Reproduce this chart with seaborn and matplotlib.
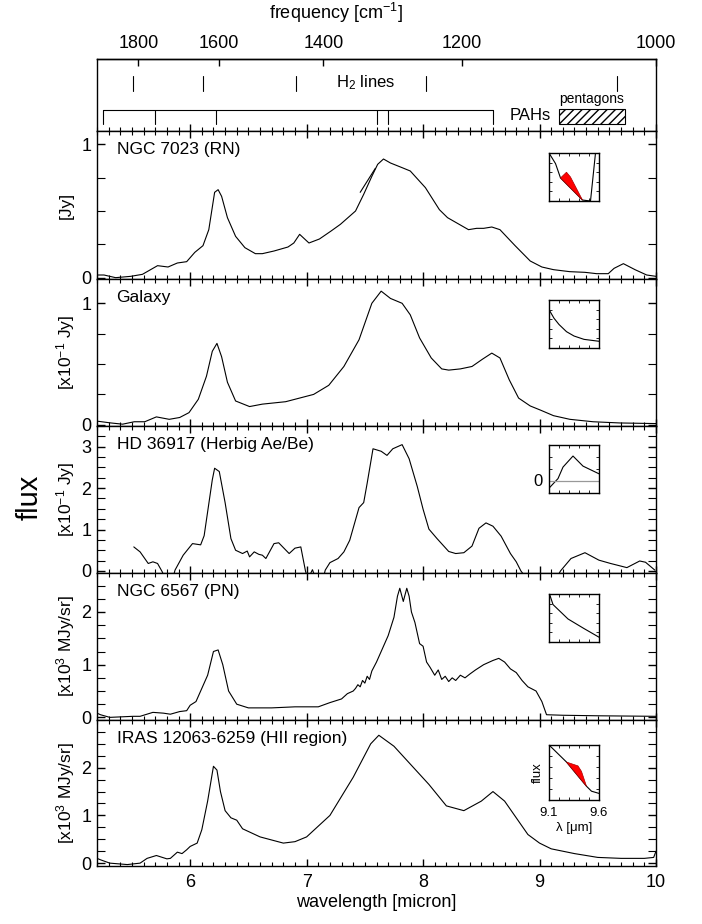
import numpy as np
import pandas as pd
import matplotlib
matplotlib.use("Agg")
import matplotlib.pyplot as plt
import seaborn as sns
from matplotlib.patches import Rectangle
from matplotlib.ticker import MultipleLocator, FixedLocator, NullLocator

sns.set_theme(style="ticks")
plt.rcParams['font.family'] = ['Liberation Sans', 'DejaVu Sans']
plt.rcParams['mathtext.fontset'] = 'custom'
plt.rcParams['mathtext.rm'] = 'Liberation Sans'
plt.rcParams['mathtext.it'] = 'Liberation Sans:italic'
plt.rcParams['axes.linewidth'] = 1.0
for k in ['axes.edgecolor', 'xtick.color', 'ytick.color', 'text.color', 'axes.labelcolor']:
    plt.rcParams[k] = 'black'

# ---------------- data ----------------
h2_lines = [5.511, 6.109, 6.909, 8.026, 9.665]
pah_bands = [5.25, 5.70, 6.22, 7.60, 7.70, 8.60]
pentagon_band = [9.17, 9.73]
freq_ticks = [1800, 1600, 1400, 1200, 1000]
wl_ticks = [6, 7, 8, 9, 10]

ngc7023_wl = [5.19, 5.26, 5.36, 5.49, 5.59, 5.66, 5.72, 5.81, 5.89, 5.97, 6.04, 6.11, 6.16, 6.21, 6.24,
              6.27, 6.32, 6.39, 6.47, 6.56, 6.62, 6.72, 6.84, 6.89, 6.94, 7.02, 7.11, 7.21, 7.29, 7.42,
              7.49, 7.56, 7.61, 7.66, 7.72, 7.82, 7.89, 8.02, 8.14, 8.21, 8.31, 8.39, 8.46, 8.52, 8.59,
              8.66, 8.79, 8.92, 9.02, 9.12, 9.26, 9.39, 9.49, 9.59, 9.64, 9.72, 9.82, 9.92, 10.0]
ngc7023_flux = [0.02, 0.02, 0.0, 0.01, 0.025, 0.06, 0.09, 0.08, 0.11, 0.12, 0.19, 0.24, 0.36, 0.64, 0.66,
                0.61, 0.45, 0.31, 0.225, 0.18, 0.18, 0.20, 0.23, 0.26, 0.325, 0.26, 0.29, 0.35, 0.40, 0.50,
                0.625, 0.76, 0.85, 0.89, 0.86, 0.825, 0.80, 0.675, 0.51, 0.45, 0.40, 0.36, 0.37, 0.37, 0.38,
                0.36, 0.24, 0.125, 0.08, 0.06, 0.045, 0.04, 0.03, 0.03, 0.07, 0.105, 0.06, 0.02, 0.01]
ngc7023_seg_wl = [7.46, 7.59]
ngc7023_seg_flux = [0.64, 0.82]

galaxy_wl = [5.20, 5.32, 5.42, 5.52, 5.61, 5.71, 5.82, 5.91, 5.99, 6.07, 6.14, 6.19, 6.23, 6.27, 6.32,
             6.39, 6.51, 6.62, 6.72, 6.82, 6.92, 7.06, 7.19, 7.32, 7.45, 7.56, 7.64, 7.72, 7.82, 7.89,
             7.97, 8.07, 8.16, 8.22, 8.32, 8.42, 8.51, 8.59, 8.66, 8.74, 8.82, 8.92, 9.01, 9.12, 9.26,
             9.46, 9.69, 10.0]
galaxy_flux = [0.03, 0.015, 0.005, 0.025, 0.025, 0.065, 0.045, 0.06, 0.10, 0.21, 0.40, 0.605, 0.67, 0.56, 0.35,
               0.196, 0.15, 0.17, 0.18, 0.19, 0.215, 0.25, 0.325, 0.48, 0.70, 1.0, 1.10, 1.04, 1.0, 0.905,
               0.715, 0.55, 0.46, 0.45, 0.46, 0.48, 0.54, 0.59, 0.55, 0.37, 0.22, 0.155, 0.12, 0.075, 0.045,
               0.025, 0.015, 0.01]

hd36917_wl = [5.516, 5.57, 5.64, 5.68, 5.72, 5.76, 5.80, 5.84, 5.87, 5.94, 6.02, 6.09, 6.12, 6.19, 6.21,
              6.25, 6.30, 6.35, 6.39, 6.45, 6.49, 6.51, 6.55, 6.59, 6.62, 6.65, 6.72, 6.76, 6.85, 6.90,
              6.95, 6.99, 7.01, 7.05, 7.08, 7.14, 7.16, 7.20, 7.27, 7.32, 7.37, 7.45, 7.49, 7.52, 7.57,
              7.64, 7.69, 7.74, 7.82, 7.88, 7.95, 8.00, 8.05, 8.12, 8.22, 8.28, 8.35, 8.42, 8.48, 8.54,
              8.60, 8.67, 8.75, 8.80, 8.84, 8.92, 9.12, 9.18, 9.27, 9.39, 9.51, 9.61, 9.75, 9.86, 9.91,
              9.99]
hd36917_flux = [0.58, 0.46, 0.18, 0.22, 0.18, -0.02, -0.3, -0.3, 0.02, 0.38, 0.66, 0.63, 0.85, 2.2, 2.48,
                2.4, 1.65, 0.78, 0.50, 0.42, 0.48, 0.34, 0.46, 0.40, 0.38, 0.30, 0.66, 0.68, 0.42, 0.55,
                0.58, 0.0, -0.2, 0.03, -0.2, -0.2, 0.02, 0.2, 0.30, 0.46, 0.74, 1.53, 1.65, 2.12, 2.95,
                2.89, 2.79, 2.95, 3.05, 2.71, 2.04, 1.49, 1.01, 0.78, 0.47, 0.42, 0.44, 0.60, 1.03, 1.16,
                1.08, 0.84, 0.42, 0.22, 0.0, -0.3, -0.3, 0.0, 0.30, 0.44, 0.26, 0.18, 0.08, 0.24, 0.21,
                0.02]

ngc6567_wl = [5.20, 5.23, 5.31, 5.51, 5.57, 5.68, 5.77, 5.83, 5.91, 5.97, 6.00, 6.05, 6.15, 6.20, 6.24,
              6.28, 6.33, 6.40, 6.50, 6.70, 6.90, 7.10, 7.20, 7.30, 7.35, 7.40, 7.42, 7.44, 7.46, 7.48,
              7.50, 7.52, 7.54, 7.56, 7.60, 7.65, 7.70, 7.75, 7.78, 7.80, 7.83, 7.86, 7.88, 7.90, 7.93,
              7.97, 8.00, 8.03, 8.06, 8.10, 8.13, 8.16, 8.19, 8.22, 8.25, 8.28, 8.32, 8.36, 8.40, 8.45,
              8.52, 8.60, 8.65, 8.70, 8.75, 8.80, 8.85, 8.90, 8.97, 9.02, 9.06, 9.20, 9.50, 10.0]
ngc6567_flux = [0.08, 0.05, 0.0, 0.02, 0.02, 0.095, 0.08, 0.06, 0.11, 0.127, 0.23, 0.30, 0.80, 1.25, 1.28,
                1.00, 0.50, 0.25, 0.18, 0.18, 0.20, 0.20, 0.28, 0.35, 0.45, 0.50, 0.55, 0.62, 0.58, 0.70,
                0.65, 0.78, 0.72, 0.88, 1.05, 1.30, 1.55, 1.90, 2.30, 2.45, 2.20, 2.45, 2.30, 2.00, 1.80,
                1.40, 1.35, 1.05, 0.95, 0.80, 0.90, 0.72, 0.78, 0.68, 0.75, 0.70, 0.80, 0.75, 0.82, 0.90,
                1.00, 1.08, 1.12, 1.05, 0.92, 0.85, 0.70, 0.58, 0.50, 0.30, 0.05, 0.04, 0.03, 0.02]

iras_wl = [5.20, 5.23, 5.31, 5.46, 5.57, 5.63, 5.71, 5.80, 5.83, 5.89, 5.93, 5.97, 6.00, 6.06, 6.10,
           6.15, 6.20, 6.23, 6.26, 6.30, 6.35, 6.40, 6.45, 6.60, 6.80, 6.90, 7.00, 7.20, 7.40, 7.55,
           7.62, 7.75, 7.90, 8.05, 8.20, 8.35, 8.50, 8.60, 8.70, 8.80, 8.90, 9.00, 9.10, 9.30, 9.50,
           9.70, 9.90, 9.98, 10.0]
iras_flux = [0.10, 0.07, 0.0, -0.03, 0.0, 0.10, 0.16, 0.09, 0.10, 0.23, 0.20, 0.28, 0.35, 0.42, 0.70,
             1.30, 2.03, 1.95, 1.50, 1.10, 0.95, 0.90, 0.72, 0.55, 0.42, 0.45, 0.55, 1.00, 1.80, 2.50,
             2.68, 2.45, 2.05, 1.65, 1.20, 1.10, 1.30, 1.50, 1.30, 0.95, 0.60, 0.42, 0.30, 0.20, 0.12,
             0.10, 0.10, 0.12, 0.25]

panel_names = ["NGC 7023 (RN)", "Galaxy", "HD 36917 (Herbig Ae/Be)", "NGC 6567 (PN)",
               "IRAS 12063-6259 (HII region)"]
panel_units = ["[Jy]", "[x10$^{-1}$ Jy]", "[x10$^{-1}$ Jy]", "[x10$^{3}$ MJy/sr]", "[x10$^{3}$ MJy/sr]"]
panel_yticks = [[0, 1], [0, 1], [0, 1, 2, 3], [0, 1, 2], [0, 1, 2]]
panel_ylims = [(-0.01, 1.10), (-0.01, 1.20), (-0.05, 3.50), (-0.05, 2.74), (-0.06, 3.0)]

# insets (wavelength 9.1-9.6, arbitrary flux)
ins1_x = [9.10, 9.165, 9.215, 9.435, 9.515, 9.565]
ins1_y = [1.0, 0.78, 0.48, 0.02, 0.0, 1.0]
ins1_poly_x = [9.215, 9.275, 9.315, 9.435]
ins1_poly_y = [0.48, 0.60, 0.50, 0.02]
ins2_x = [9.10, 9.15, 9.20, 9.275, 9.35, 9.45, 9.60]
ins2_y = [0.80, 0.62, 0.49, 0.34, 0.25, 0.18, 0.14]
ins3_x = [9.10, 9.19, 9.24, 9.34, 9.44, 9.60]
ins3_y = [-0.15, 0.05, 0.29, 0.52, 0.31, 0.15]
ins4_x = [9.105, 9.14, 9.29, 9.45, 9.60]
ins4_y = [1.0, 0.78, 0.48, 0.28, 0.10]
ins5_x = [9.10, 9.14, 9.275, 9.475, 9.525, 9.60]
ins5_y = [1.0, 0.93, 0.69, 0.25, 0.16, 0.12]
ins5_poly_x = [9.275, 9.39, 9.425, 9.475]
ins5_poly_y = [0.69, 0.62, 0.52, 0.25]

# ---------------- layout ----------------
W, H = 702, 924
fig = plt.figure(figsize=(W / 100, H / 100), dpi=100)
XL, XR = 97, 656
LW = 0.8


def rect(x0, y0, x1, y1):
    return [x0 / W, 1 - y1 / H, (x1 - x0) / W, (y1 - y0) / H]


panel_px = [(131, 279), (279, 426), (426, 573), (573, 720), (720, 866)]
inset_px = [(549, 153, 599, 201), (549, 300, 599, 348), (549, 445, 599, 493),
            (549, 594, 599, 642), (549, 745, 599, 800)]

TFS = 13
# top panel
ax0 = fig.add_axes(rect(XL, 59, XR, 131))
ax0.set_xlim(5.2, 10)
ax0.set_ylim(0, 1)
ax0.yaxis.set_major_locator(NullLocator())
ax0.xaxis.set_major_locator(MultipleLocator(1))
ax0.xaxis.set_minor_locator(MultipleLocator(0.1))
ax0.tick_params(axis='x', which='major', direction='in', length=5, width=1, bottom=True, top=False,
                labelbottom=False)
ax0.tick_params(axis='x', which='minor', direction='in', length=2.6, width=0.8, bottom=True, top=False)
for lam in h2_lines:
    ax0.plot([lam, lam], [0.56, 0.76], color='black', lw=0.8)
ax0.text(7.51, 0.67, "H$_2$ lines", ha='center', va='center', fontsize=12)
ax0.plot([pah_bands[0], pah_bands[-1]], [0.29, 0.29], color='black', lw=0.8)
for lam in pah_bands:
    ax0.plot([lam, lam], [0.10, 0.29], color='black', lw=0.8)
ax0.text(8.92, 0.22, "PAHs", ha='center', va='center', fontsize=12)
ax0.add_patch(Rectangle((pentagon_band[0], 0.10), pentagon_band[1] - pentagon_band[0], 0.20,
                        fill=False, hatch='////', lw=0.8, edgecolor='black'))
ax0.text(sum(pentagon_band) / 2, 0.44, "pentagons", ha='center', va='center', fontsize=10)
sec = ax0.secondary_xaxis('top', functions=(lambda x: 1e4 / np.clip(x, 1e-6, None),
                                            lambda f: 1e4 / np.clip(f, 1e-6, None)))
sec.xaxis.set_major_locator(FixedLocator(freq_ticks))
sec.xaxis.set_minor_locator(NullLocator())
sec.tick_params(axis='x', direction='in', length=5, width=1, labelsize=TFS, pad=5)
sec.set_xticklabels([str(f) for f in freq_ticks])
fig.text(336 / W, 1 - 13 / H, "frequency [cm$^{-1}$]", ha='center', va='center', fontsize=13)

spectra = [(ngc7023_wl, ngc7023_flux), (galaxy_wl, galaxy_flux), (hd36917_wl, hd36917_flux),
           (ngc6567_wl, ngc6567_flux), (iras_wl, iras_flux)]

for i, (y0, y1) in enumerate(panel_px):
    ax = fig.add_axes(rect(XL, y0, XR, y1))
    wl, fl = spectra[i]
    df = pd.DataFrame({"wl": wl, "flux": fl})
    sns.lineplot(data=df, x="wl", y="flux", ax=ax, color='black', lw=LW, sort=False, estimator=None)
    if i == 0:
        dseg = pd.DataFrame({"wl": ngc7023_seg_wl, "flux": ngc7023_seg_flux})
        sns.lineplot(data=dseg, x="wl", y="flux", ax=ax, color='black', lw=LW, sort=False, estimator=None)
    ax.set_xlim(5.2, 10)
    ax.set_ylim(*panel_ylims[i])
    ax.set_xlabel("")
    ax.set_ylabel("")
    ax.xaxis.set_major_locator(FixedLocator(wl_ticks))
    ax.xaxis.set_minor_locator(MultipleLocator(0.1))
    ax.yaxis.set_major_locator(FixedLocator(panel_yticks[i]))
    ax.yaxis.set_minor_locator(MultipleLocator(0.25))
    ax.tick_params(axis='x', which='major', direction='in', length=5, width=1, top=True, bottom=True,
                   labelbottom=(i == 4), labelsize=TFS, pad=6)
    ax.tick_params(axis='x', which='minor', direction='in', length=2.6, width=0.8, top=True, bottom=True)
    ax.tick_params(axis='y', which='major', direction='in', length=6, width=1, left=True, right=True,
                   labelsize=TFS, pad=4)
    ax.tick_params(axis='y', which='minor', direction='in', length=6, width=0.8, left=True, right=True)
    ax.text(0.035, 0.875, panel_names[i], transform=ax.transAxes, ha='left', va='center', fontsize=12.5)
    fig.text(66 / W, 1 - ((y0 + y1) / 2) / H, panel_units[i], rotation=90, ha='center', va='center',
             fontsize=12.5)
    if i == 4:
        ax.set_xticklabels([str(t) for t in wl_ticks])
        ax.set_xlabel("wavelength [micron]", fontsize=13, labelpad=2)

fig.text(30 / W, 1 - 497 / H, "flux", rotation=90, ha='center', va='center', fontsize=21)

# insets
ins_data = [(ins1_x, ins1_y), (ins2_x, ins2_y), (ins3_x, ins3_y), (ins4_x, ins4_y), (ins5_x, ins5_y)]
for i, (x0, y0, x1, y1) in enumerate(inset_px):
    ia = fig.add_axes(rect(x0, y0, x1, y1))
    xs, ys = ins_data[i]
    sns.lineplot(x=xs, y=ys, ax=ia, color='black', lw=0.8, sort=False, estimator=None)
    if i == 0:
        ia.fill(ins1_poly_x, ins1_poly_y, facecolor='red', edgecolor='#aa0000', lw=0.5, zorder=3)
    if i == 4:
        ia.fill(ins5_poly_x, ins5_poly_y, facecolor='red', edgecolor='#aa0000', lw=0.5, zorder=3)
    ia.set_xlim(9.1, 9.6)
    if i == 2:
        ia.set_ylim(-0.25, 0.75)
        ia.axhline(0, color='#999999', lw=0.9)
        ia.text(-0.12, 0.25, "0", transform=ia.transAxes, ha='right', va='center', fontsize=12)
    else:
        ia.set_ylim(0, 1)
    ia.xaxis.set_major_locator(MultipleLocator(0.1))
    ia.yaxis.set_major_locator(MultipleLocator(0.2 if i != 2 else 0.25))
    ia.tick_params(direction='in', length=2, width=0.6, top=True, right=True, bottom=True, left=True,
                   labelbottom=False, labelleft=False)
    ia.set_xlabel("")
    ia.set_ylabel("")
    for s in ia.spines.values():
        s.set_linewidth(1.0)
    if i == 4:
        ia.xaxis.set_major_locator(FixedLocator([9.1, 9.2, 9.3, 9.4, 9.5, 9.6]))
        ia.text(0.0, -0.12, "9.1", transform=ia.transAxes, ha='center', va='top', fontsize=9.5)
        ia.text(1.0, -0.12, "9.6", transform=ia.transAxes, ha='center', va='top', fontsize=9.5)
        ia.text(0.5, -0.40, "λ [μm]", transform=ia.transAxes, ha='center', va='top', fontsize=9.5)
        ia.text(-0.22, 0.5, "flux", transform=ia.transAxes, ha='center', va='center', rotation=90,
                fontsize=9.5)

fig.savefig("out.png", dpi=100)
